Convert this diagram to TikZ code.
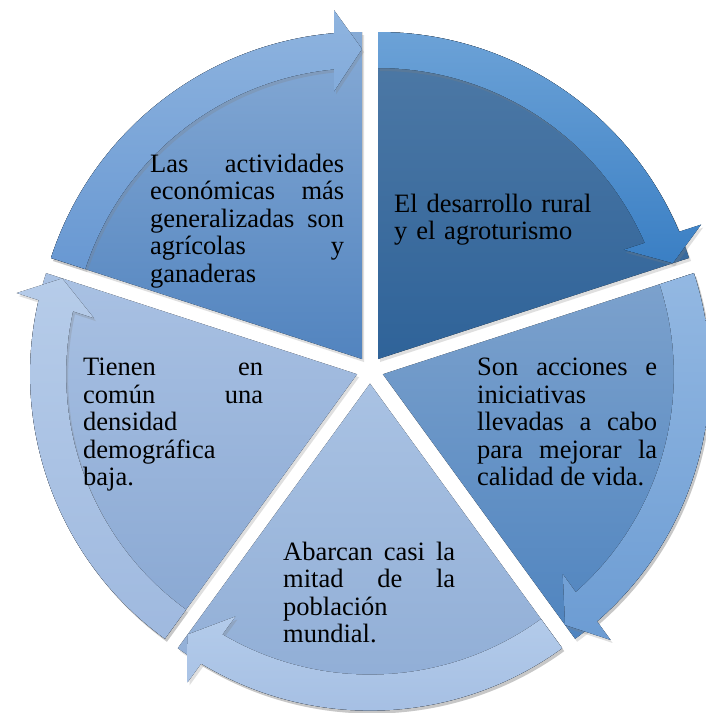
\documentclass[tikz,border=0pt]{standalone}
\usepackage{fontspec}
\setmainfont{Liberation Serif}
\usepackage{tikz}
\usetikzlibrary{positioning,shadows}

\definecolor{segTRtop}{HTML}{4F7AA6}
\definecolor{segTRbot}{HTML}{2F6399}
\definecolor{segRtop}{HTML}{7DA2CD}
\definecolor{segRbot}{HTML}{4F84BF}
\definecolor{segBtop}{HTML}{A9C2E3}
\definecolor{segBbot}{HTML}{8DABD4}
\definecolor{segLtop}{HTML}{A9C1E3}
\definecolor{segLbot}{HTML}{88A7D2}
\definecolor{segTLtop}{HTML}{86AAD5}
\definecolor{segTLbot}{HTML}{5284BF}
\definecolor{arrTRtop}{HTML}{6CA2D7}
\definecolor{arrTRbot}{HTML}{3A7FC4}
\definecolor{arrRtop}{HTML}{93B8E2}
\definecolor{arrRbot}{HTML}{6C9CD3}
\definecolor{arrBtop}{HTML}{B3CBEA}
\definecolor{arrBbot}{HTML}{A3BDE2}
\definecolor{arrLtop}{HTML}{B6CCE9}
\definecolor{arrLbot}{HTML}{9FB9DF}
\definecolor{arrTLtop}{HTML}{8FB4DF}
\definecolor{arrTLbot}{HTML}{6898D2}

\begin{document}
\begin{tikzpicture}[x=1pt, y=1pt,
        shadowed/.style={drop shadow={shadow xshift=2pt, shadow yshift=-3pt, opacity=.25}},
        segTR/.style={shadowed, top color=segTRtop, bottom color=segTRbot},
        segR/.style={shadowed, top color=segRtop, bottom color=segRbot},
        segB/.style={shadowed, top color=segBtop, bottom color=segBbot},
        segL/.style={shadowed, top color=segLtop, bottom color=segLbot},
        segTL/.style={shadowed, top color=segTLtop, bottom color=segTLbot},
        arrTR/.style={shadowed, top color=arrTRtop, bottom color=arrTRbot},
        arrR/.style={shadowed, top color=arrRtop, bottom color=arrRbot},
        arrB/.style={shadowed, top color=arrBtop, bottom color=arrBbot},
        arrL/.style={shadowed, top color=arrLtop, bottom color=arrLbot},
        arrTL/.style={shadowed, top color=arrTLtop, bottom color=arrTLbot},
        txt/.style={anchor=north west, inner sep=0pt, align=justify,
            font=\fontsize{26.5}{27.5}\selectfont,
            execute at begin node={\tolerance=10000\relax\hbadness=10000\relax\hyphenpenalty=10000\relax}}]

    \fill[white] (0,0) rectangle (705,-713);
    \useasboundingbox (0,0) rectangle (705,-713);

    \coordinate (cTR) at (378,-359);
    \coordinate (cR)  at (382.9,-374.2);
    \coordinate (cB)  at (370,-383.6);
    \coordinate (cL)  at (357.1,-374.2);
    \coordinate (cTL) at (362,-359);

    \fill[segTR, shift={(cTR)}] (0,0) -- (90:327) arc[start angle=90, end angle=18, radius=327] -- cycle;
    \fill[segR,  shift={(cR)}]  (0,0) -- (18:327) arc[start angle=18, end angle=-54, radius=327] -- cycle;
    \fill[segB,  shift={(cB)}]  (0,0) -- (-54:327) arc[start angle=-54, end angle=-126, radius=327] -- cycle;
    \fill[segL,  shift={(cL)}]  (0,0) -- (234:327) arc[start angle=234, end angle=162, radius=327] -- cycle;
    \fill[segTL, shift={(cTL)}] (0,0) -- (162:327) arc[start angle=162, end angle=90, radius=327] -- cycle;

    \fill[arrTR, shift={(cTR)}] (90:327) arc[start angle=90, end angle=22.912, radius=327]
        -- (22.588:350) -- (18:310) -- (23.975:269) -- (23.521:291)
        arc[start angle=23.521, end angle=90, radius=291] -- cycle;
    \fill[arrR, shift={(cR)}] (18:327) arc[start angle=18, end angle=-49.088, radius=327]
        -- (-49.412:350) -- (-54:310) -- (-48.025:269) -- (-48.479:291)
        arc[start angle=-48.479, end angle=18, radius=291] -- cycle;
    \fill[arrB, shift={(cB)}] (-54:327) arc[start angle=-54, end angle=-121.088, radius=327]
        -- (-121.412:350) -- (-126:310) -- (-120.025:269) -- (-120.479:291)
        arc[start angle=-120.479, end angle=-54, radius=291] -- cycle;
    \fill[arrL, shift={(cL)}] (234:327) arc[start angle=234, end angle=166.912, radius=327]
        -- (166.588:350) -- (162:310) -- (167.975:269) -- (167.521:291)
        arc[start angle=167.521, end angle=234, radius=291] -- cycle;
    \fill[arrTL, shift={(cTL)}] (162:327) arc[start angle=162, end angle=94.912, radius=327]
        -- (94.588:350) -- (90:310) -- (95.975:269) -- (95.521:291)
        arc[start angle=95.521, end angle=162, radius=291] -- cycle;

    \node[txt, text width=194pt] (actividades) at (150,-153.9)
        {Las actividades\linebreak económicas más\linebreak generalizadas son\linebreak agrícolas y\linebreak ganaderas};
    \node[txt, text width=200pt, align=left] (desarrollo) at (394,-193.9)
        {El desarrollo rural\\ y el agroturismo};
    \node[txt, text width=180pt] (acciones) at (477,-357.9)
        {Son acciones e\linebreak iniciativas\linebreak llevadas a cabo\linebreak para mejorar la\linebreak calidad de vida.};
    \node[txt, text width=172pt] (mitad) at (283,-541.9)
        {Abarcan casi la\linebreak mitad de la\linebreak población\linebreak mundial.};
    \node[txt, text width=180pt] (densidad) at (83,-357.9)
        {Tienen en\linebreak común una\linebreak densidad\linebreak demográfica\linebreak baja.};
\end{tikzpicture}
\end{document}
